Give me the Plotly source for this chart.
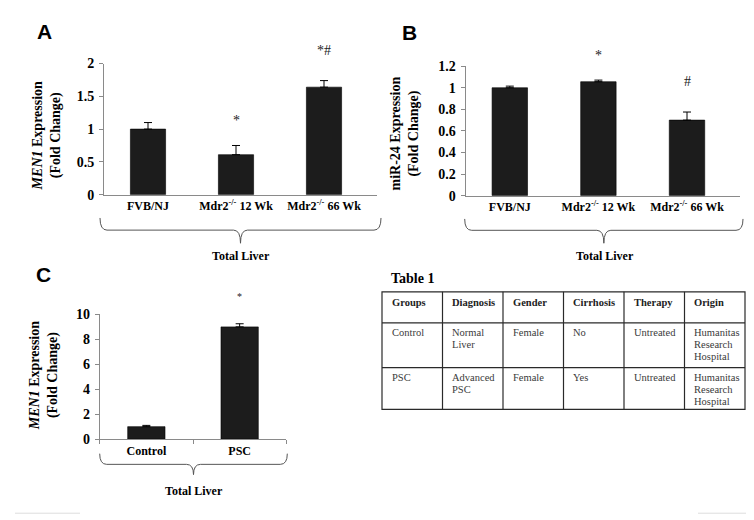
import plotly.graph_objects as go

W, H = 754, 520

# ---------------- data ----------------
groups_ab = ["FVB/NJ", "Mdr2<sup>-/-</sup> 12 Wk", "Mdr2<sup>-/-</sup> 66 Wk"]
men1_mouse = [1.0, 0.61, 1.64]
men1_mouse_err = [0.10, 0.14, 0.10]
sig_a = ["", "*", "*#"]

mir24 = [1.0, 1.056, 0.70]
mir24_err = [0.015, 0.015, 0.075]
sig_b = ["", "*", "#"]

groups_c = ["Control", "PSC"]
men1_human = [1.0, 9.0]
men1_human_err = [0.10, 0.25]
sig_c = ["", "*"]

group_label = "Total Liver"

table_title = "Table 1"
table_header = ["Groups", "Diagnosis", "Gender", "Cirrhosis", "Therapy", "Origin"]
table_rows = [
    ["Control", "Normal<br>Liver", "Female", "No", "Untreated", "Humanitas<br>Research<br>Hospital"],
    ["PSC", "Advanced<br>PSC", "Female", "Yes", "Untreated", "Humanitas<br>Research<br>Hospital"],
]

# ---------------- helpers ----------------
SERIF = "Liberation Serif"
SANS = "Liberation Sans"
AXC = "#8a8a8a"
BAR = "#1c1c1c"


def px(x):
    return x / W


def py(y):
    return 1 - y / H


def brace(x0, x1, ytop, ymid, ybot, r=7):
    xc = (x0 + x1) / 2
    p = (
        f"M{px(x0)},{py(ytop)} Q{px(x0)},{py(ymid)} {px(x0 + r)},{py(ymid)} "
        f"L{px(xc - r)},{py(ymid)} Q{px(xc)},{py(ymid)} {px(xc)},{py(ybot)} "
        f"Q{px(xc)},{py(ymid)} {px(xc + r)},{py(ymid)} "
        f"L{px(x1 - r)},{py(ymid)} Q{px(x1)},{py(ymid)} {px(x1)},{py(ytop)}"
    )
    return dict(type="path", path=p, xref="paper", yref="paper",
                line=dict(color="#555555", width=1))


def bars(x, y, err, xa, ya):
    return go.Bar(
        x=x, y=y, width=0.4, xaxis=xa, yaxis=ya, showlegend=False,
        marker=dict(color=BAR, line=dict(color="#000000", width=0.6)),
        error_y=dict(type="data", symmetric=False, array=err,
                     arrayminus=[0] * len(err), color="#000000",
                     thickness=1, width=4),
    )


fig = go.Figure()
fig.add_trace(bars(groups_ab, men1_mouse, men1_mouse_err, "x", "y"))
fig.add_trace(bars(groups_ab, mir24, mir24_err, "x2", "y2"))
fig.add_trace(bars(groups_c, men1_human, men1_human_err, "x3", "y3"))

tickfont_y = dict(family=SERIF, size=14, color="black", weight="bold")
tickfont_x = dict(family=SERIF, size=12, color="black", weight="bold")


def yaxis(dom, rng, dt, anchor):
    return dict(domain=dom, range=rng, dtick=dt, anchor=anchor, showline=True,
                linecolor=AXC, linewidth=1, ticks="outside", ticklen=4,
                tickcolor=AXC, tickfont=tickfont_y, showgrid=False,
                zeroline=False, fixedrange=True, ticklabelstandoff=2)


def xaxis(dom, rng, anchor, ticks=""):
    d = dict(domain=dom, range=rng, anchor=anchor, showline=True,
             linecolor=AXC, linewidth=1, tickfont=tickfont_x, showgrid=False,
             zeroline=False, type="category", fixedrange=True, ticks=ticks)
    if ticks:
        d.update(tickson="boundaries", ticklen=4, tickcolor=AXC)
    return d


xa_dom = [px(96), px(96 + 3.1 * 88)]
xb_dom = [px(457.5), px(457.5 + 3.1 * 88.6)]
xc_dom = [px(91.7), px(278.3)]

fig.update_layout(
    width=W, height=H, margin=dict(l=0, r=0, t=0, b=0), autosize=False,
    paper_bgcolor="white", plot_bgcolor="white",
    xaxis=xaxis(xa_dom, [-0.5, 2.6], "y"),
    yaxis=yaxis([py(185), py(50)], [0, 2], 0.5, "x"),
    xaxis2=xaxis(xb_dom, [-0.5, 2.6], "y2"),
    yaxis2=yaxis([py(186), py(52.7)], [0, 1.2], 0.2, "x2"),
    xaxis3=xaxis(xc_dom, [-0.5, 1.5], "y3", ticks="outside"),
    yaxis3=yaxis([py(436.7), py(308.3)], [0, 10], 2, "x3"),
)

ann = []
shapes = []

# panel letters
for letter, x, y in [("A", 36, 17), ("B", 401, 18), ("C", 35, 267)]:
    ann.append(dict(text=f"<b>{letter}</b>", x=px(x), y=py(y), xref="paper",
                    yref="paper", showarrow=False, xanchor="center",
                    yanchor="middle",
                    font=dict(family=SANS, size=21, color="black")))

# y titles
title_font = dict(family=SERIF, size=14, color="black", weight="bold")
for txt, x, y in [("<i>MEN1</i> Expression<br>(Fold Change)", 39, 125),
                  ("miR-24 Expression<br>(Fold Change)", 397, 122),
                  ("<i>MEN1</i> Expression<br>(Fold Change)", 36, 372)]:
    ann.append(dict(text=txt, x=px(x), y=py(y), xref="paper", yref="paper",
                    showarrow=False, textangle=-90, xanchor="center",
                    yanchor="middle", font=title_font))

# significance marks
for xs, vals, errs, sig, xr, yr, fs, sh in [
    (groups_ab, men1_mouse, men1_mouse_err, sig_a, "x", "y", 14, 15),
    (groups_ab, mir24, mir24_err, sig_b, "x2", "y2", 14, 15),
    (groups_c, men1_human, men1_human_err, sig_c, "x3", "y3", 10, 20),
]:
    for i, s in enumerate(sig):
        if s:
            ann.append(dict(text=s, x=xs[i], y=vals[i] + errs[i], xref=xr,
                            yref=yr, showarrow=False, xanchor="center",
                            yanchor="bottom",
                            yshift=sh + (6 if "#" in s else 0),
                            font=dict(family=SERIF, size=fs, color="#222222")))

# group labels under braces
for x, y in [(233, 248), (597, 248), (186, 490)]:
    ann.append(dict(text=f"<b>{group_label}</b>", x=px(x), y=py(y),
                    xref="paper", yref="paper", showarrow=False,
                    xanchor="center", yanchor="middle",
                    font=dict(family=SERIF, size=12, color="black")))

# ---------------- table (drawn as grid + texts) ----------------
ann.append(dict(text=f"<b>{table_title}</b>", x=px(381), y=py(271),
                xref="paper", yref="paper", showarrow=False, xanchor="left",
                yanchor="middle",
                font=dict(family=SERIF, size=14, color="black")))

tx0, tx1 = 374, 737
row_edges = [285, 317, 363, 406]
ncol = len(table_header)
col_edges = [tx0 + (tx1 - tx0) * i / ncol for i in range(ncol + 1)]
tline = dict(color="#2a2a2a", width=1.2)
shapes.append(dict(type="rect", xref="paper", yref="paper", x0=px(tx0),
                   x1=px(tx1), y0=py(row_edges[-1]), y1=py(row_edges[0]),
                   line=tline))
for ce in col_edges[1:-1]:
    shapes.append(dict(type="line", xref="paper", yref="paper", x0=px(ce),
                       x1=px(ce), y0=py(row_edges[-1]), y1=py(row_edges[0]),
                       line=tline))
for re_ in row_edges[1:-1]:
    shapes.append(dict(type="line", xref="paper", yref="paper", x0=px(tx0),
                       x1=px(tx1), y0=py(re_), y1=py(re_), line=tline))

all_rows = [[f"<b>{h}</b>" for h in table_header]] + table_rows
line_h = 12.4
for r, row in enumerate(all_rows):
    top = row_edges[r]
    first = top + (11 if r == 0 else 10)
    for c, cell in enumerate(row):
        for k, part in enumerate(cell.split("<br>")):
            ann.append(dict(text=part, x=px(col_edges[c] + 7.5),
                            y=py(first + k * line_h), xref="paper",
                            yref="paper", showarrow=False, xanchor="left",
                            yanchor="middle",
                            font=dict(family=SERIF, size=10.5,
                                      color="#222222" if r == 0 else "#3a3a3a")))

fig.update_layout(annotations=ann)

shapes += [
    brace(92, 373, 209, 221.5, 235),
    brace(456.7, 735, 210, 221.7, 235),
    brace(91.7, 279.3, 451.7, 462.7, 473.3),
    dict(type="line", xref="paper", yref="paper", x0=px(7), x1=px(72),
         y0=py(513), y1=py(513), line=dict(color="#dddddd", width=1)),
    dict(type="line", xref="paper", yref="paper", x0=px(690), x1=px(750),
         y0=py(513), y1=py(513), line=dict(color="#dddddd", width=1)),
]
fig.update_layout(shapes=shapes)

fig.write_html("out.html")
